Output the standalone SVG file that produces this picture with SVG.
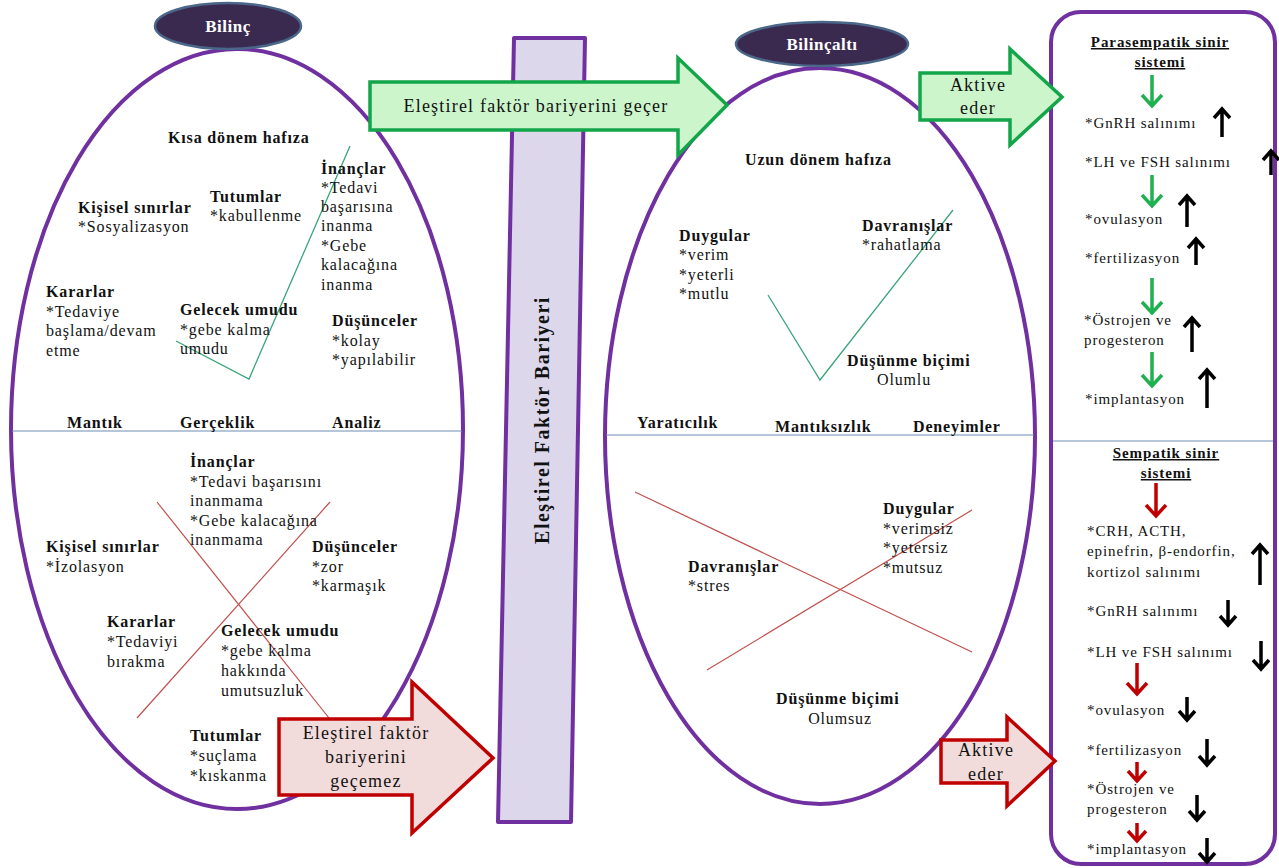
<svg xmlns="http://www.w3.org/2000/svg" width="1279" height="868" viewBox="0 0 1279 868" font-family="'Liberation Serif', 'DejaVu Serif', 'Times New Roman', serif">
<defs>
<style>
text{font-family:'Liberation Serif','DejaVu Serif','Times New Roman',serif;font-size:16px;letter-spacing:0.85px;fill:#111}
.b{font-weight:bold}
.u{text-decoration:underline}
.c{text-anchor:middle}
.big{font-size:18px;letter-spacing:1.2px}
.sm{font-size:15px;letter-spacing:0.9px}
.lbl{font-weight:bold;fill:#fff;font-size:17px;letter-spacing:0.5px;text-anchor:middle}
.ell{fill:none;stroke:#7030A0;stroke-width:4}
.tag{fill:#3B2A50;stroke:#4A6689;stroke-width:2.5}
.div{stroke:#6C8EB3;stroke-width:1.2}
.gl{stroke:#3AA57A;stroke-width:1.3;fill:none}
.rl{stroke:#C0504D;stroke-width:1.2;fill:none}
.ga{fill:#CCF5CC;stroke:#13A54A;stroke-width:3.5;stroke-linejoin:miter}
.ra{fill:#F2DCDB;stroke:#C00000;stroke-width:3.5;stroke-linejoin:miter}
.gd{stroke:#1FB050;stroke-width:3.5;fill:none}
.rd{stroke:#C00000;stroke-width:3.5;fill:none}
.kd{stroke:#000;stroke-width:3.5;fill:none}
</style>
</defs>
<rect x="0" y="0" width="1279" height="868" fill="#fff"/>

<!-- Left ellipse: Bilinç -->
<g id="bilinc">
<ellipse class="ell" cx="237" cy="429" rx="226" ry="380"/>
<line class="div" x1="12" y1="431" x2="462" y2="431"/>
<polyline class="gl" points="176,341 249,379 350,146"/>
<line class="rl" x1="157" y1="502" x2="329" y2="718"/>
<line class="rl" x1="330" y1="502" x2="137" y2="718"/>
<text class="b" x="168" y="143">Kısa dönem hafıza</text>
<text x="321" y="174"><tspan class="b">İnançlar</tspan><tspan x="321" dy="19">*Tedavi</tspan><tspan x="321" dy="19">başarısına</tspan><tspan x="321" dy="19">inanma</tspan><tspan x="321" dy="19.5">*Gebe</tspan><tspan x="321" dy="19.5">kalacağına</tspan><tspan x="321" dy="19.5">inanma</tspan></text>
<text x="210" y="202"><tspan class="b">Tutumlar</tspan><tspan x="210" dy="19">*kabullenme</tspan></text>
<text x="78" y="213"><tspan class="b">Kişisel sınırlar</tspan><tspan x="78" dy="19">*Sosyalizasyon</tspan></text>
<text x="46" y="297"><tspan class="b">Kararlar</tspan><tspan x="46" dy="19.5">*Tedaviye</tspan><tspan x="46" dy="19.5">başlama/devam</tspan><tspan x="46" dy="19.5">etme</tspan></text>
<text x="180" y="315"><tspan class="b">Gelecek umudu</tspan><tspan x="180" dy="19.5">*gebe kalma</tspan><tspan x="180" dy="19.5">umudu</tspan></text>
<text x="332" y="326"><tspan class="b">Düşünceler</tspan><tspan x="332" dy="19.5">*kolay</tspan><tspan x="332" dy="19.5">*yapılabilir</tspan></text>
<text class="b" x="67" y="428">Mantık</text>
<text class="b" x="180" y="428">Gerçeklik</text>
<text class="b" x="332" y="428">Analiz</text>
<text x="190" y="467"><tspan class="b">İnançlar</tspan><tspan x="190" dy="19.5">*Tedavi başarısını</tspan><tspan x="190" dy="19.5">inanmama</tspan><tspan x="190" dy="19.5">*Gebe kalacağına</tspan><tspan x="190" dy="19.5">inanmama</tspan></text>
<text x="46" y="552"><tspan class="b">Kişisel sınırlar</tspan><tspan x="46" dy="19.5">*İzolasyon</tspan></text>
<text x="312" y="552"><tspan class="b">Düşünceler</tspan><tspan x="312" dy="19.5">*zor</tspan><tspan x="312" dy="19.5">*karmaşık</tspan></text>
<text x="107" y="627"><tspan class="b">Kararlar</tspan><tspan x="107" dy="20">*Tedaviyi</tspan><tspan x="107" dy="20">bırakma</tspan></text>
<text x="221" y="636"><tspan class="b">Gelecek umudu</tspan><tspan x="221" dy="20">*gebe kalma</tspan><tspan x="221" dy="20">hakkında</tspan><tspan x="221" dy="19.5">umutsuzluk</tspan></text>
<text x="190" y="741"><tspan class="b">Tutumlar</tspan><tspan x="190" dy="20">*suçlama</tspan><tspan x="190" dy="19.5">*kıskanma</tspan></text>
</g>
<g id="bilinc-tag">
<ellipse class="tag" cx="228" cy="26" rx="73" ry="23"/>
<text class="lbl" x="228" y="32">Bilinç</text>
</g>

<!-- Barrier -->
<g id="bariyer">
<polygon points="514,38 585,38 571,822 498,822" fill="#DCD7EB" stroke="#7030A0" stroke-width="4" stroke-linejoin="round"/>
<text class="b c" x="0" y="0" transform="translate(549,420) rotate(-90)" style="font-size:20px;letter-spacing:1.5px">Eleştirel Faktör Bariyeri</text>
</g>

<!-- Right ellipse: Bilinçaltı -->
<g id="bilincalti">
<ellipse class="ell" cx="820" cy="436" rx="215" ry="368"/>
<line class="div" x1="606" y1="435" x2="1034" y2="435"/>
<polyline class="gl" points="768,295 820,380 953,210"/>
<line class="rl" x1="635" y1="492" x2="972" y2="652"/>
<line class="rl" x1="707" y1="670" x2="972" y2="510"/>
<text class="b" x="745" y="165">Uzun dönem hafıza</text>
<text x="679" y="241"><tspan class="b">Duygular</tspan><tspan x="679" dy="19">*verim</tspan><tspan x="679" dy="19.5">*yeterli</tspan><tspan x="679" dy="19.5">*mutlu</tspan></text>
<text x="862" y="231"><tspan class="b">Davranışlar</tspan><tspan x="862" dy="19">*rahatlama</tspan></text>
<text class="b" x="847" y="366">Düşünme biçimi</text>
<text class="c" x="904" y="385">Olumlu</text>
<text class="b" x="637" y="428">Yaratıcılık</text>
<text class="b" x="775" y="432">Mantıksızlık</text>
<text class="b" x="913" y="432">Deneyimler</text>
<text x="883" y="514"><tspan class="b">Duygular</tspan><tspan x="883" dy="19.5">*verimsiz</tspan><tspan x="883" dy="19.5">*yetersiz</tspan><tspan x="883" dy="19.5">*mutsuz</tspan></text>
<text x="688" y="572"><tspan class="b">Davranışlar</tspan><tspan x="688" dy="19">*stres</tspan></text>
<text class="b" x="776" y="704">Düşünme biçimi</text>
<text class="c" x="840" y="724">Olumsuz</text>
</g>
<g id="bilincalti-tag">
<ellipse class="tag" cx="822" cy="44" rx="86" ry="22"/>
<text class="lbl" x="822" y="50">Bilinçaltı</text>
</g>

<!-- Right panel -->
<g id="sinir-sistemi">
<rect x="1051" y="12" width="224" height="852" rx="30" ry="30" fill="#fff" stroke="#7030A0" stroke-width="4"/>
<line class="div" x1="1053" y1="441" x2="1273" y2="441"/>
</g>
<g id="parasempatik">
<text class="b u c sm" x="1160" y="47">Parasempatik sinir</text>
<text class="b u c sm" x="1160" y="67">sistemi</text>
<text class="sm" x="1085" y="128">*GnRH salınımı</text>
<text class="sm" x="1085" y="167">*LH ve FSH salınımı</text>
<text class="sm" x="1085" y="224">*ovulasyon</text>
<text class="sm" x="1085" y="263">*fertilizasyon</text>
<text class="sm" x="1084" y="325">*Östrojen ve</text>
<text class="sm" x="1084" y="345">progesteron</text>
<text class="sm" x="1085" y="404">*implantasyon</text>
</g>
<g id="sempatik">
<text class="b u c sm" x="1166" y="458">Sempatik sinir</text>
<text class="b u c sm" x="1166" y="478">sistemi</text>
<text class="sm" x="1087" y="536">*CRH, ACTH,</text>
<text class="sm" x="1087" y="556">epinefrin, β-endorfin,</text>
<text class="sm" x="1087" y="577">kortizol salınımı</text>
<text class="sm" x="1087" y="616">*GnRH salınımı</text>
<text class="sm" x="1087" y="657">*LH ve FSH salınımı</text>
<text class="sm" x="1087" y="715">*ovulasyon</text>
<text class="sm" x="1087" y="755">*fertilizasyon</text>
<text class="sm" x="1087" y="794">*Östrojen ve</text>
<text class="sm" x="1087" y="814">progesteron</text>
<text class="sm" x="1087" y="854">*implantasyon</text>
</g>

<!-- Block arrows -->
<g id="gecer-ok">
<polygon class="ga" points="370,82 678,82 678,58 727,105 678,155 678,130 370,130"/>
<text class="c big" x="536" y="112">Eleştirel faktör bariyerini  geçer</text>
</g>
<g id="gecemez-ok">
<polygon class="ra" points="279,719 412,719 412,682 493,758 412,833 412,795 279,795"/>
<text class="c big" x="366" y="739">Eleştirel faktör</text>
<text class="c big" x="366" y="763">bariyerini</text>
<text class="c big" x="366" y="787">geçemez</text>
</g>
<g id="aktive-ok-yesil">
<polygon class="ga" points="920,73 1010,73 1010,49 1062,97 1010,145 1010,120 920,120"/>
<text class="c big" x="978" y="91">Aktive</text>
<text class="c big" x="978" y="114">eder</text>
</g>
<g id="aktive-ok-kirmizi">
<polygon class="ra" points="941,740 1007,740 1007,717 1055,761 1007,806 1007,783 941,783"/>
<text class="c big" x="986" y="756">Aktive</text>
<text class="c big" x="986" y="780">eder</text>
</g>

<!-- Connectors -->
<g id="connectors">
<path class="gd" d="M1152,75 V106 M1142,95 L1152,106 L1162,95"/>
<path class="gd" d="M1152,175 V206 M1142,195 L1152,206 L1162,195"/>
<path class="gd" d="M1152,278 V313 M1142,302 L1152,313 L1162,302"/>
<path class="gd" d="M1152,352 V386 M1142,375 L1152,386 L1162,375"/>
<path class="rd" d="M1156,483 V516 M1146,505 L1156,516 L1166,505"/>
<path class="rd" d="M1137,663 V694 M1127,683 L1137,694 L1147,683"/>
<path class="rd" d="M1137,762 V781 M1128,771 L1137,781 L1146,771"/>
<path class="rd" d="M1137,823 V841 M1128,831 L1137,841 L1146,831"/>
<!-- black up arrows -->
<path class="kd" d="M1222,137 V109 M1214,118 L1222,109 L1230,118"/>
<path class="kd" d="M1271,175 V151 M1263,160 L1271,151 L1279,160"/>
<path class="kd" d="M1187,227 V196 M1179,205 L1187,196 L1195,205"/>
<path class="kd" d="M1196,265 V239 M1188,248 L1196,239 L1204,248"/>
<path class="kd" d="M1192,352 V318 M1184,327 L1192,318 L1200,327"/>
<path class="kd" d="M1207,408 V370 M1199,379 L1207,370 L1215,379"/>
<path class="kd" d="M1260,585 V545 M1252,554 L1260,545 L1268,554"/>
<!-- black down arrows -->
<path class="kd" d="M1228,600 V625 M1220,616 L1228,625 L1236,616"/>
<path class="kd" d="M1261,641 V669 M1253,660 L1261,669 L1269,660"/>
<path class="kd" d="M1187,697 V720 M1179,711 L1187,720 L1195,711"/>
<path class="kd" d="M1207,739 V765 M1199,756 L1207,765 L1215,756"/>
<path class="kd" d="M1197,795 V820 M1189,811 L1197,820 L1205,811"/>
<path class="kd" d="M1207,838 V862 M1199,853 L1207,862 L1215,853"/>
</g>
</svg>
